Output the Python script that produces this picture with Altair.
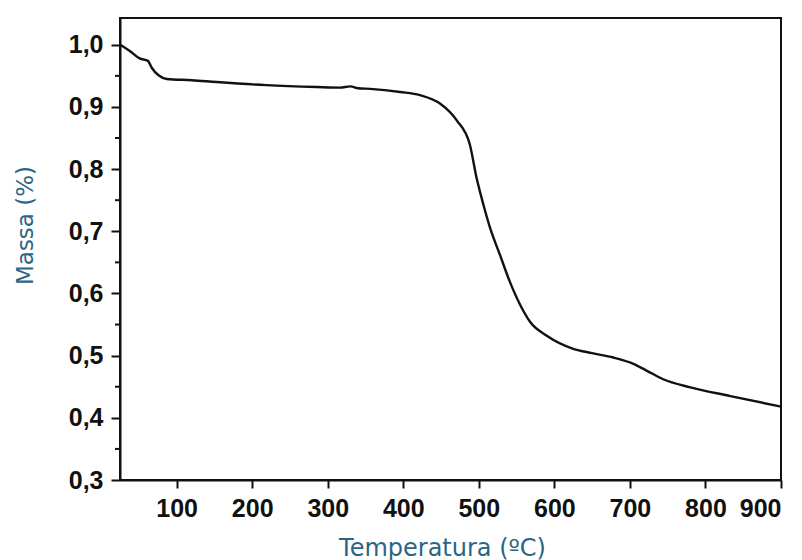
import altair as alt
import pandas as pd

temperature = [25, 38, 51, 62, 67, 76, 87, 120, 153, 219, 285, 316, 330, 340, 356,
               396, 422, 449, 471, 488, 497, 506, 515, 528, 541, 555, 568, 590,
               625, 650, 678, 700, 722, 744, 780, 833, 900]
mass = [1.0, 0.99, 0.978, 0.974, 0.963, 0.951, 0.945, 0.943, 0.940, 0.935, 0.932,
        0.931, 0.933, 0.930, 0.929, 0.924, 0.919, 0.905, 0.878, 0.840, 0.786,
        0.743, 0.705, 0.662, 0.619, 0.581, 0.554, 0.532, 0.511, 0.504, 0.497,
        0.489, 0.476, 0.462, 0.449, 0.435, 0.418]

x_ticks = [100, 200, 300, 400, 500, 600, 700, 800, 900]
y_ticks = [0.3, 0.4, 0.5, 0.6, 0.7, 0.8, 0.9, 1.0]
y_minor = [0.35, 0.45, 0.55, 0.65, 0.75, 0.85, 0.95]

df = pd.DataFrame({"T": temperature, "m": mass})
minor_df = pd.DataFrame({"v": y_minor})

title_color = "#2a6585"

x_scale = alt.Scale(domain=[25, 900], nice=False, zero=False)
y_scale = alt.Scale(domain=[0.3, 1.043], nice=False, zero=False)

line = alt.Chart(df).mark_line(color="#111111", strokeWidth=2.4, interpolate="monotone").encode(
    x=alt.X("T:Q", scale=x_scale,
            axis=alt.Axis(values=x_ticks, title="Temperatura (ºC)", grid=False,
                          tickSize=8, tickWidth=2, tickColor="#111", domainColor="#111",
                          domainWidth=2, labelFont="Liberation Sans", labelFontWeight="bold",
                          labelFontSize=25, labelColor="#111", labelPadding=8,
                          titleFont="DejaVu Sans", titleFontSize=24, titleFontWeight="normal",
                          titleColor=title_color, titleX=322, titleY=68,
                          titleBaseline="middle")),
    y=alt.Y("m:Q", scale=y_scale,
            axis=alt.Axis(values=y_ticks, title="Massa (%)", grid=False,
                          labelExpr="replace(format(datum.value, '.1f'), '.', ',')",
                          tickSize=9, tickWidth=2, tickColor="#111", domainColor="#111",
                          domainWidth=2, labelFont="Liberation Sans", labelFontWeight="bold",
                          labelFontSize=25, labelColor="#111", labelPadding=8,
                          titleFont="DejaVu Sans", titleFontSize=23, titleFontWeight="normal",
                          titleColor=title_color, titleAngle=-90, titleX=-95, titleY=207,
                          titleAlign="center", titleBaseline="middle")),
)

minor = alt.Chart(minor_df).mark_rule(color="#111111", strokeWidth=2).encode(
    y=alt.Y("v:Q", scale=y_scale),
    x=alt.value(-5),
    x2=alt.value(0),
)

chart = alt.layer(line, minor).properties(
    width=661, height=462,
    background="white",
    autosize=alt.AutoSizeParams(type="none"),
    padding={"left": 120, "top": 18, "right": 21, "bottom": 80},
).configure_view(stroke="#111111", strokeWidth=2)

chart.save("out.html", embed_options={"renderer": "svg", "actions": False})
